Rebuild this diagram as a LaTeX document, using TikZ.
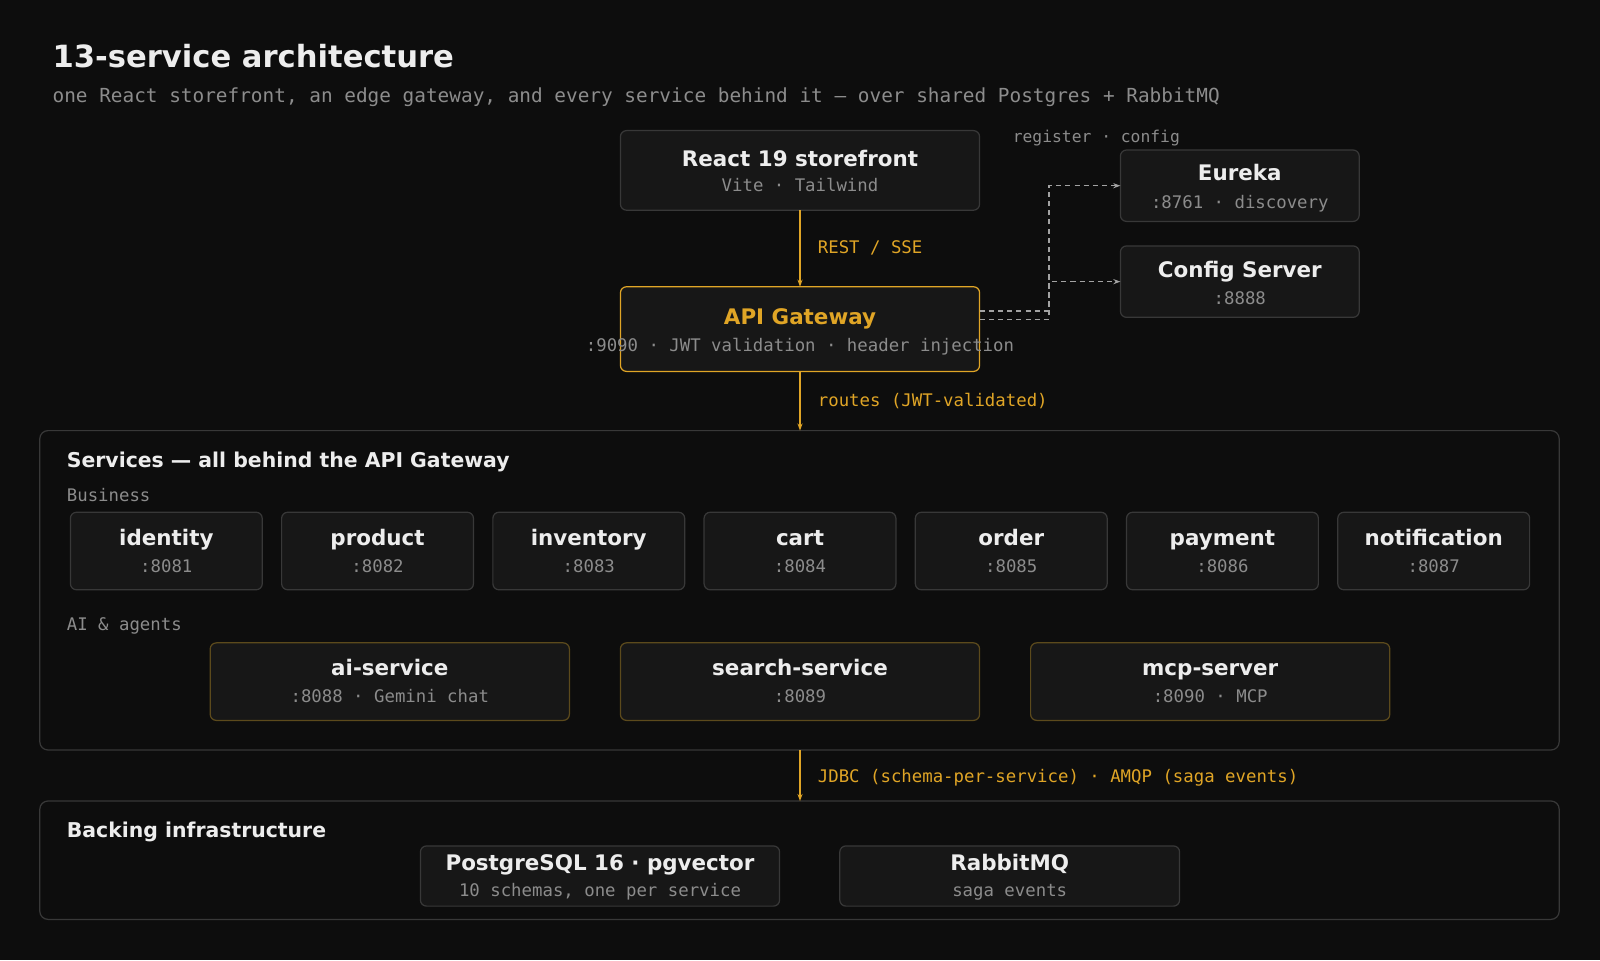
\documentclass[tikz,border=0pt]{standalone}
\usepackage{fontspec}
\setmainfont{DejaVu Sans}
\newfontfamily\mono{DejaVu Sans Mono}
\usetikzlibrary{arrows.meta}
\definecolor{bg}{HTML}{0D0D0D}
\definecolor{boxf}{HTML}{171717}
\definecolor{boxd}{HTML}{383838}
\definecolor{gold}{HTML}{E0A526}
\definecolor{dgold}{HTML}{5C4A1C}
\definecolor{txt}{HTML}{EDEDED}
\definecolor{gry}{HTML}{8C8C8C}
\begin{document}
\begin{tikzpicture}[x=1pt,y=-1pt,
  box/.style={draw=boxd,fill=boxf,rounded corners=6pt,line width=1.2pt},
  ttl/.style={text=txt,font=\bfseries\fontsize{21}{24}\selectfont,anchor=base},
  sub/.style={text=gry,font=\mono\fontsize{17}{20}\selectfont,anchor=base},
  lab/.style={text=gold,font=\mono\fontsize{17}{20}\selectfont,anchor=base west},
  glab/.style={text=gry,font=\mono\fontsize{17}{20}\selectfont,anchor=base west},
  arr/.style={draw=gold,line width=1.5pt,-{Stealth[length=7pt,width=5pt]}},
  darr/.style={draw=gry!80,line width=1.5pt,dash pattern=on 5pt off 4pt,-{Stealth[length=7pt,width=5pt]}},
  cont/.style={draw=boxd,rounded corners=8pt,line width=1.2pt},
  sec/.style={text=txt,font=\bfseries\fontsize{20}{24}\selectfont,anchor=base west}]
\fill[bg] (0,0) rectangle (1568,941);
\useasboundingbox (0,0) rectangle (1568,941);
\node[text=txt,font=\bfseries\fontsize{30}{34}\selectfont,anchor=base west] (title) at (48,66) {13-service architecture};
\node[glab,font=\mono\fontsize{19}{22}\selectfont] (subtitle) at (48,100) {one React storefront, an edge gateway, and every service behind it — over shared Postgres + RabbitMQ};
% react
\draw[box] (608,128) rectangle (960,206);
\node[ttl] (react) at (784,163) {React 19 storefront};
\node[sub] (reacts) at (784,188) {Vite · Tailwind};
\coordinate (rb) at (784,206);
% gateway
\draw[box,draw=gold] (608,281) rectangle (960,364);
\coordinate (gt) at (784,281);
\coordinate (gb) at (784,364);
\node[ttl,text=gold] (gw) at (784,318) {API Gateway};
\node[sub] (gws) at (784,344) {:9090 · JWT validation · header injection};
\draw[arr] (rb) -- (gt);
\node[lab] (l1) at (798,248) {REST / SSE};
% eureka / config
\draw[box] (1098,147) rectangle (1332,217);
\node[ttl] (eu) at (1215,177) {Eureka};
\node[sub] (eus) at (1215,204) {:8761 · discovery};
\draw[box] (1098,241) rectangle (1332,311);
\node[ttl] (cf) at (1215,272) {Config Server};
\node[sub] (cfs) at (1215,298) {:8888};
\node[glab,font=\mono\fontsize{16}{20}\selectfont] (rc) at (989,140) {register · config};
\coordinate (g1) at (960,305);
\coordinate (g2) at (960,313);
\coordinate (e1) at (1098,182);
\coordinate (c1) at (1098,276);
\draw[darr] (g1) -| (1028,182) -- (e1);
\draw[darr] (g2) -| (1028,276) -- (c1);
% services
\draw[cont] (39,422) rectangle (1528,735);
\coordinate (st) at (784,422);
\coordinate (sb) at (784,735);
\draw[arr] (gb) -- (st);
\node[lab] (l2) at (798,398) {routes (JWT-validated)};
\node[sec] (svc) at (62,458) {Services — all behind the API Gateway};
\node[glab] (bus) at (62,491) {Business};
\foreach \n/\p [count=\i from 0] in {identity/8081,product/8082,inventory/8083,cart/8084,order/8085,payment/8086,notification/8087}{
  \pgfmathsetmacro\xx{69+207*\i}
  \draw[box] (\xx,502) rectangle ++(188,76);
  \node[ttl] (b\i) at (\xx+94,535) {\n};
  \node[sub] (bs\i) at (\xx+94,561) {:\p};
}
\node[glab] (ai) at (62,618) {AI \& agents};
\foreach \n/\p/\x [count=\i] in {ai-service/{:8088 · Gemini chat}/206,search-service/{:8089}/608,mcp-server/{:8090 · MCP}/1010}{
  \draw[box,draw=dgold] (\x,630) rectangle ++(352,76);
  \node[ttl] (a\i) at (\x+176,662) {\n};
  \node[sub] (as\i) at (\x+176,688) {\p};
}
% backing
\draw[cont] (39,785) rectangle (1528,901);
\coordinate (bt) at (784,785);
\draw[arr] (sb) -- (bt);
\node[lab] (l3) at (798,767) {JDBC (schema-per-service) · AMQP (saga events)};
\node[sec] (bk) at (62,821) {Backing infrastructure};
\draw[box] (412,829) rectangle (764,888);
\node[ttl] (pg) at (588,853) {PostgreSQL 16 · pgvector};
\node[sub] (pgs) at (588,879) {10 schemas, one per service};
\draw[box] (823,829) rectangle (1156,888);
\node[ttl] (rq) at (989.5,853) {RabbitMQ};
\node[sub] (rqs) at (989.5,879) {saga events};
\end{tikzpicture}
\end{document}
